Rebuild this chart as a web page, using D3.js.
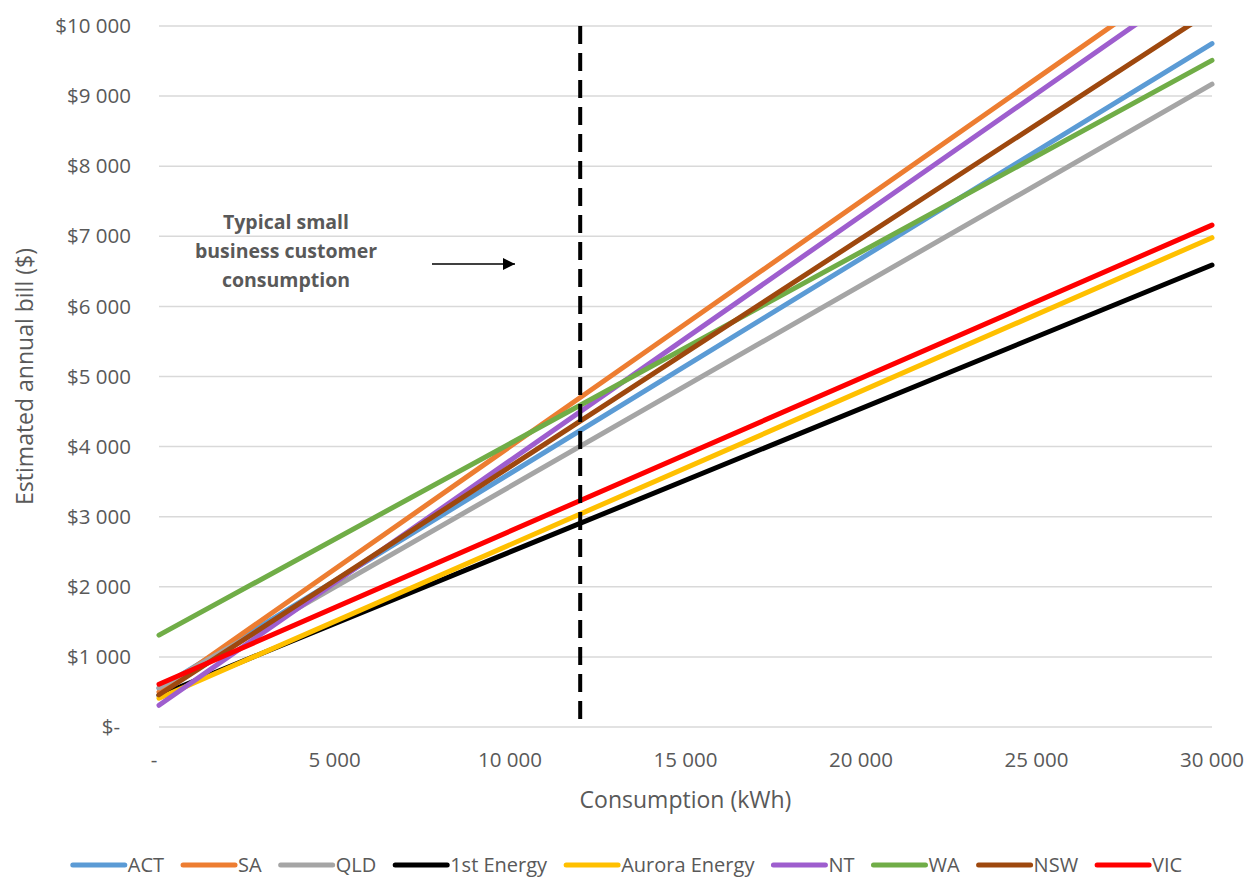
<!DOCTYPE html>
<html>
<head>
<meta charset="utf-8">
<script src="https://cdn.jsdelivr.net/npm/d3@7"></script>
<style>
  body { margin: 0; background: #fff; }
  text { font-family: "Open Sans", sans-serif; fill: #595959; }
</style>
</head>
<body>
<div id="chart"></div>
<script>
// consumption points (kWh) and estimated bill ($) at each of them
const consumption = [0, 30000];
const seriesNames = ["ACT", "SA", "QLD", "1st Energy", "Aurora Energy", "NT", "WA", "NSW", "VIC"];
const actValues = [550, 9750];
const saValues = [500, 11000];
const qldValues = [560, 9170];
const firstEnergyValues = [450, 6590];
const auroraValues = [410, 6980];
const ntValues = [310, 10780];
const waValues = [1310, 9510];
const nswValues = [460, 10220];
const vicValues = [610, 7160];
const colors = ["#5B9BD5", "#ED7D31", "#A5A5A5", "#000000", "#FFC000", "#9E5ECE", "#70AD47", "#9E480E", "#FF0000"];
const yTicks = [0, 1000, 2000, 3000, 4000, 5000, 6000, 7000, 8000, 9000, 10000];
const xTicks = [0, 5000, 10000, 15000, 20000, 25000, 30000];
const typicalConsumption = 12000;
const noteLines = ["Typical small", "business customer", "consumption"];

const allValues = [actValues, saValues, qldValues, firstEnergyValues, auroraValues, ntValues, waValues, nswValues, vicValues];

const width = 1247, height = 879;
const margin = { top: 26, right: 35, bottom: 152, left: 159 };

const svg = d3.select("#chart").append("svg")
    .attr("width", width)
    .attr("height", height);

const x = d3.scaleLinear()
    .domain([0, 30000])
    .range([margin.left, width - margin.right]);
const y = d3.scaleLinear()
    .domain([0, 10000])
    .range([height - margin.bottom, margin.top]);

const fmt = v => v.toLocaleString("en-US").replace(/,/g, " ");

// grid
svg.append("g")
    .selectAll("line")
    .data(yTicks)
    .join("line")
    .attr("x1", x(0))
    .attr("x2", x(30000))
    .attr("y1", d => y(d))
    .attr("y2", d => y(d))
    .attr("stroke", "#D9D9D9")
    .attr("stroke-width", 1.5);

// y tick labels
svg.append("g")
    .selectAll("text")
    .data(yTicks)
    .join("text")
    .attr("x", d => d == 0 ? 120 : 131)
    .attr("y", d => y(d))
    .attr("dy", "0.35em")
    .attr("text-anchor", "end")
    .attr("font-size", 20.5)
    .text(d => d == 0 ? "$-" : "$" + fmt(d));

// x tick labels
svg.append("g")
    .selectAll("text")
    .data(xTicks)
    .join("text")
    .attr("x", d => d == 0 ? x(d) - 5 : x(d))
    .attr("y", 767)
    .attr("text-anchor", "middle")
    .attr("font-size", 20.5)
    .text(d => d == 0 ? "-" : fmt(d));

// axis titles
svg.append("text")
    .attr("x", x(15000))
    .attr("y", 808)
    .attr("text-anchor", "middle")
    .attr("font-size", 23)
    .text("Consumption (kWh)");

svg.append("text")
    .attr("transform", "translate(25," + y(5000) + ") rotate(-90)")
    .attr("dy", "0.35em")
    .attr("text-anchor", "middle")
    .attr("font-size", 23)
    .text("Estimated annual bill ($)");

// series
svg.append("clipPath")
    .attr("id", "plot-clip")
    .append("rect")
    .attr("x", x(0) - 5)
    .attr("y", y(10000))
    .attr("width", x(30000) - x(0) + 10)
    .attr("height", y(0) - y(10000) + 5);

const line = d3.line()
    .x((d, i) => x(consumption[i]))
    .y(d => y(d));

svg.append("g")
    .attr("clip-path", "url(#plot-clip)")
    .selectAll("path")
    .data(allValues)
    .join("path")
    .attr("d", d => line(d))
    .attr("fill", "none")
    .attr("stroke", (d, i) => colors[i])
    .attr("stroke-width", 5)
    .attr("stroke-linecap", "round");

// typical consumption marker
svg.append("line")
    .attr("x1", x(typicalConsumption))
    .attr("x2", x(typicalConsumption))
    .attr("y1", y(10000))
    .attr("y2", y(0))
    .attr("stroke", "black")
    .attr("stroke-width", 4)
    .attr("stroke-dasharray", "18,9");

svg.append("g")
    .selectAll("text")
    .data(noteLines)
    .join("text")
    .attr("x", 286)
    .attr("y", (d, i) => 229 + i * 29)
    .attr("text-anchor", "middle")
    .attr("font-size", 19.5)
    .attr("font-weight", 700)
    .text(d => d);

svg.append("defs").append("marker")
    .attr("id", "arrow")
    .attr("viewBox", "0 0 10 10")
    .attr("refX", 10)
    .attr("refY", 5)
    .attr("markerWidth", 15)
    .attr("markerHeight", 12)
    .attr("markerUnits", "userSpaceOnUse")
    .attr("orient", "auto")
    .append("path")
    .attr("d", "M0,0L10,5L0,10Z")
    .attr("fill", "black");

svg.append("line")
    .attr("x1", 432)
    .attr("x2", 515)
    .attr("y1", 264)
    .attr("y2", 264)
    .attr("stroke", "black")
    .attr("stroke-width", 1.3)
    .attr("marker-end", "url(#arrow)");

// legend
const legend = svg.append("g");
let lx = 0;
seriesNames.forEach((name, i) => {
    legend.append("line")
        .attr("x1", lx + 2)
        .attr("x2", lx + 54)
        .attr("y1", 865)
        .attr("y2", 865)
        .attr("stroke", colors[i])
        .attr("stroke-width", 5)
        .attr("stroke-linecap", "round");
    let t = legend.append("text")
        .attr("x", lx + 57)
        .attr("y", 872)
        .attr("font-size", 20)
        .text(name);
    lx += 57 + t.node().getComputedTextLength() + 17;
});
lx -= 17;
legend.attr("transform", "translate(" + (626.5 - lx / 2) + ",0)");
</script>
</body>
</html>
